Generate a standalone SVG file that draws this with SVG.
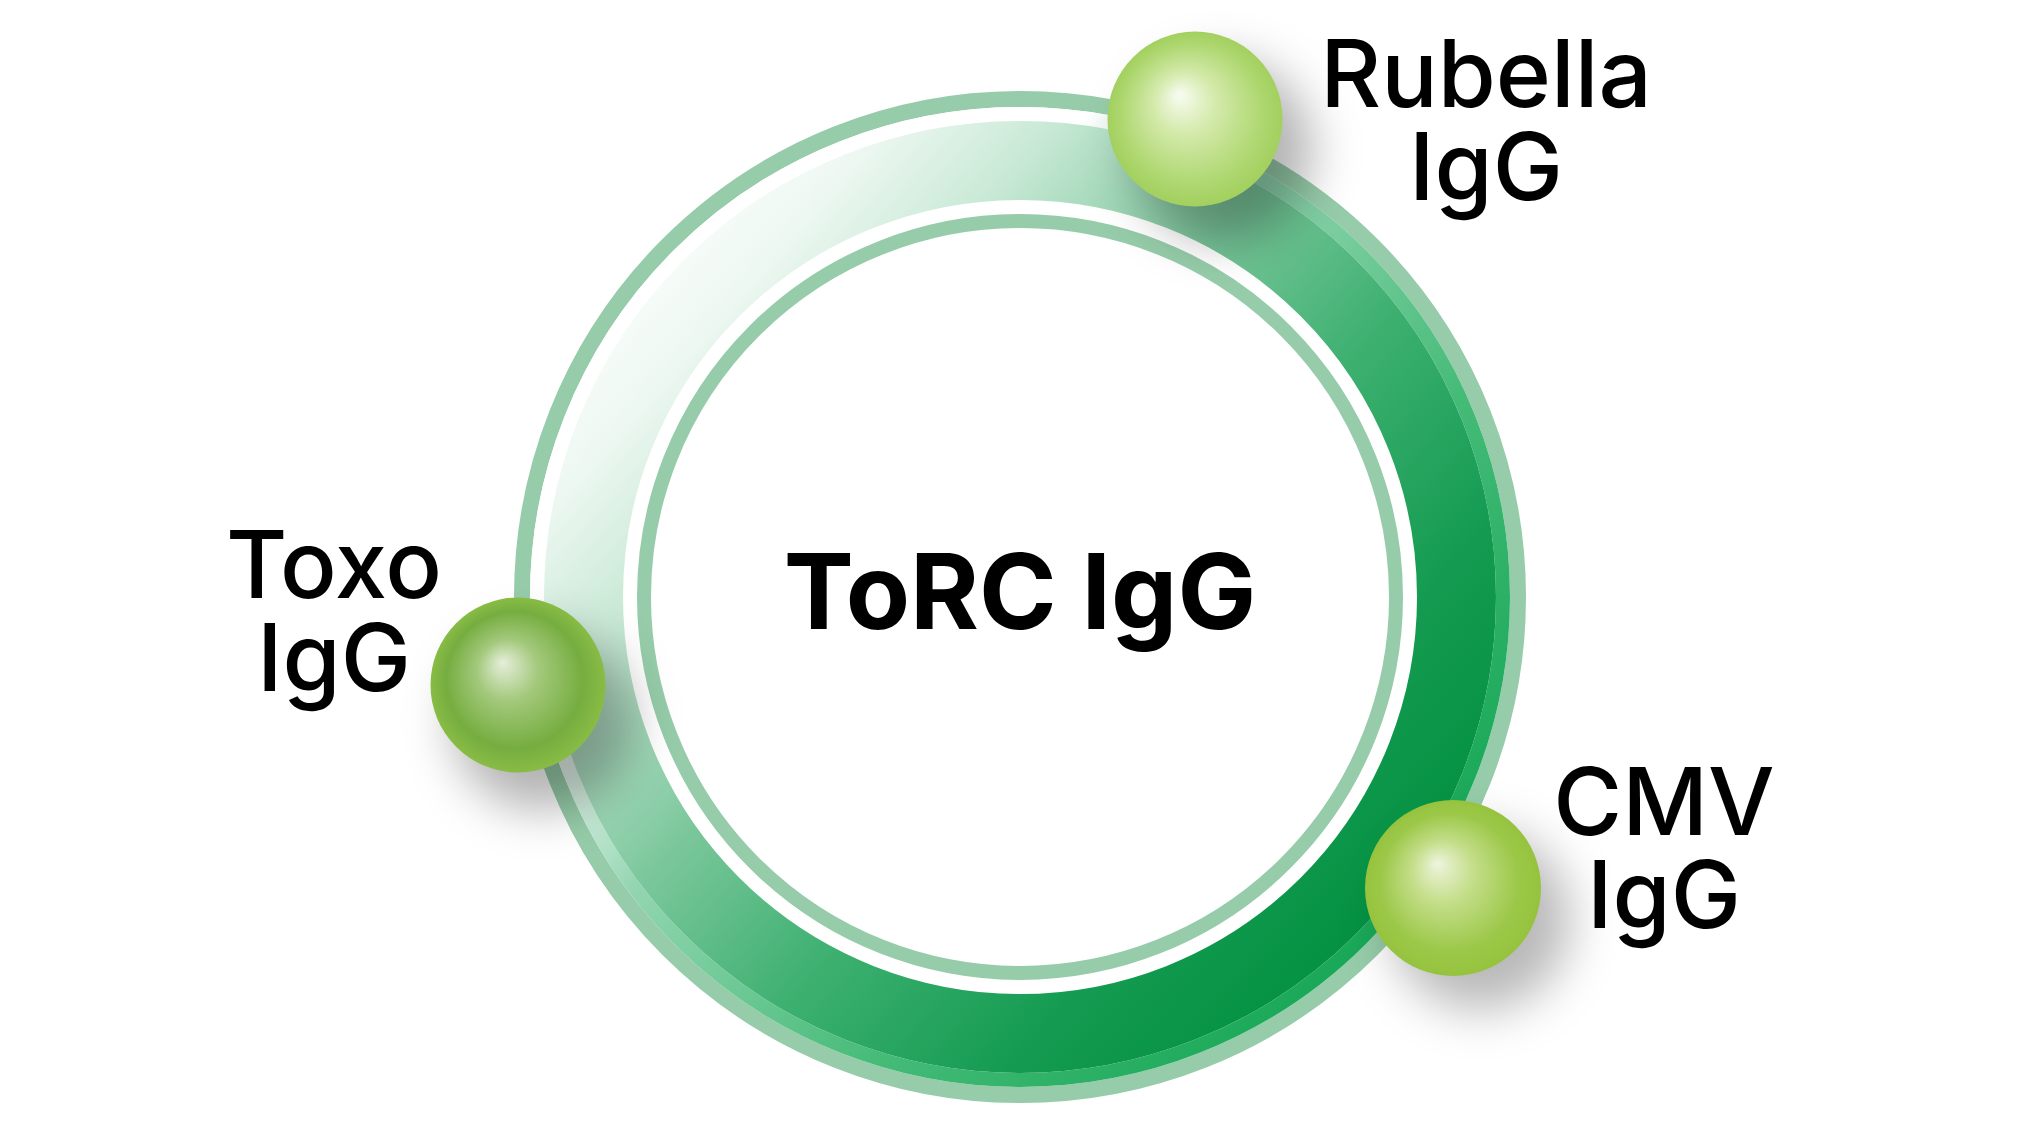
<svg xmlns="http://www.w3.org/2000/svg" width="2034" height="1144" viewBox="0 0 2034 1144">
  <style>
    .lbl { font-family: Inter, "Noto Sans", "Liberation Sans", sans-serif; font-size: 94px; font-weight: 500; fill: #000; text-anchor: middle; }
    .title { font-family: Inter, "Noto Sans", "Liberation Sans", sans-serif; font-size: 105px; font-weight: 700; fill: #000; text-anchor: middle; }
    .pale { fill: none; stroke: #96cca9; }
  </style>
  <defs>
    <linearGradient id="band" gradientUnits="userSpaceOnUse" x1="600" y1="250" x2="1400" y2="950">
      <stop offset="0" stop-color="#ffffff"/>
      <stop offset="0.12" stop-color="#eef8f2"/>
      <stop offset="0.24" stop-color="#c9e9d6"/>
      <stop offset="0.42" stop-color="#7cc79c"/>
      <stop offset="0.6" stop-color="#3db070"/>
      <stop offset="0.8" stop-color="#149b51"/>
      <stop offset="1" stop-color="#008f3e"/>
    </linearGradient>
    <linearGradient id="strip" gradientUnits="userSpaceOnUse" x1="600" y1="250" x2="1400" y2="950">
      <stop offset="0" stop-color="#ffffff"/>
      <stop offset="0.26" stop-color="#ffffff"/>
      <stop offset="0.42" stop-color="#92d5b0"/>
      <stop offset="0.7" stop-color="#45bb78"/>
      <stop offset="1" stop-color="#14a654"/>
    </linearGradient>
    <radialGradient id="ballRub" cx="0.5" cy="0.5" r="0.5" fx="0.41" fy="0.36">
      <stop offset="0" stop-color="#f8fcf2"/>
      <stop offset="0.35" stop-color="#d4eaab"/>
      <stop offset="0.78" stop-color="#b0d873"/>
      <stop offset="1" stop-color="#a2d05e"/>
    </radialGradient>
    <radialGradient id="ballToxo" cx="0.5" cy="0.5" r="0.5" fx="0.41" fy="0.37">
      <stop offset="0" stop-color="#e6eedb"/>
      <stop offset="0.35" stop-color="#a3c97c"/>
      <stop offset="0.78" stop-color="#76ad40"/>
      <stop offset="1" stop-color="#88bc45"/>
    </radialGradient>
    <radialGradient id="ballCmv" cx="0.5" cy="0.5" r="0.5" fx="0.41" fy="0.36">
      <stop offset="0" stop-color="#eef4de"/>
      <stop offset="0.35" stop-color="#c4de8a"/>
      <stop offset="0.78" stop-color="#9cc849"/>
      <stop offset="1" stop-color="#96c33e"/>
    </radialGradient>
    <filter id="soft" x="-60%" y="-60%" width="220%" height="220%">
      <feGaussianBlur stdDeviation="24"/>
    </filter>
  </defs>

  <rect width="2034" height="1144" fill="#ffffff"/>

  <g id="ring">
    <circle cx="1020" cy="597" r="498" class="pale" stroke-width="16"/>
    <circle cx="1020" cy="597" r="483" fill="none" stroke="url(#strip)" stroke-width="14"/>
    <circle cx="1020" cy="597" r="436.5" fill="none" stroke="url(#band)" stroke-width="79"/>
    <circle cx="1020" cy="597" r="376" class="pale" stroke-width="14"/>
  </g>

  <g id="shadows" filter="url(#soft)">
    <circle cx="1222" cy="150" r="90" fill="#000" fill-opacity="0.3"/>
    <circle cx="542" cy="720" r="90" fill="#000" fill-opacity="0.3"/>
    <circle cx="1480" cy="920" r="90" fill="#000" fill-opacity="0.28"/>
  </g>

  <g id="connectors"/>

  <g id="node-center">
    <text class="title" x="1020" y="629">ToRC IgG</text>
  </g>

  <g id="node-rubella">
    <circle cx="1195" cy="119" r="87.5" fill="url(#ballRub)"/>
    <text class="lbl" x="1486" y="107">Rubella</text>
    <text class="lbl" x="1486" y="200">IgG</text>
  </g>

  <g id="node-toxo">
    <circle cx="518" cy="685" r="87.5" fill="url(#ballToxo)"/>
    <text class="lbl" x="334" y="598">Toxo</text>
    <text class="lbl" x="334" y="691">IgG</text>
  </g>

  <g id="node-cmv">
    <circle cx="1453" cy="888" r="88" fill="url(#ballCmv)"/>
    <text class="lbl" x="1664" y="835">CMV</text>
    <text class="lbl" x="1664" y="928">IgG</text>
  </g>
</svg>
